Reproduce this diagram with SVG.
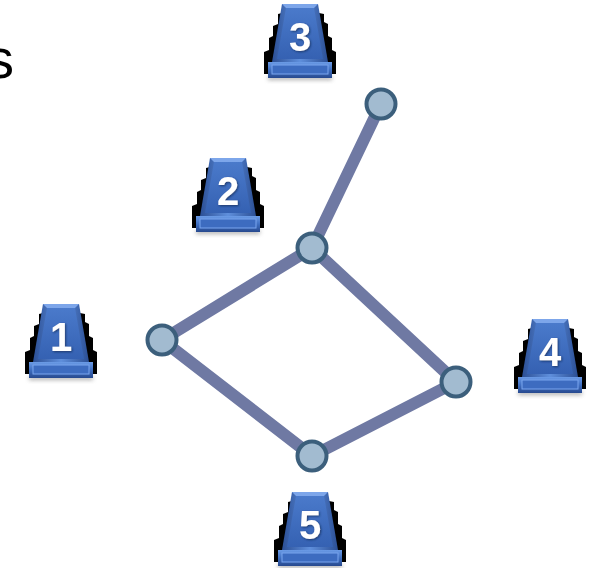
<svg xmlns="http://www.w3.org/2000/svg" width="597" height="568" viewBox="0 0 597 568">
<style>
.edge{stroke:#6f79a3;stroke-width:12;stroke-linecap:round;fill:none}
.vert{fill:#a2bbd0;stroke:#3c5f7c;stroke-width:4}
.num{font-family:"Liberation Sans",Arial,sans-serif;font-weight:bold;font-size:40px;fill:#ffffff;text-anchor:middle}
.title{font-family:"Liberation Sans",Arial,sans-serif;font-size:56px;fill:#000000}
</style>
<defs>
<linearGradient id="gTrapEdge" x1="0" y1="0" x2="1" y2="0">
<stop offset="0" stop-color="#2b4f95"/>
<stop offset="0.5" stop-color="#5f8fdc"/>
<stop offset="1" stop-color="#2b4f95"/>
</linearGradient>
<linearGradient id="gFace" x1="0" y1="0" x2="0" y2="1">
<stop offset="0" stop-color="#4a7acb"/>
<stop offset="1" stop-color="#3561b2"/>
</linearGradient>
<linearGradient id="gBase" x1="0" y1="0" x2="0" y2="1">
<stop offset="0" stop-color="#6b9be6"/>
<stop offset="0.5" stop-color="#3f6fc2"/>
<stop offset="1" stop-color="#27498e"/>
</linearGradient>
<filter id="blur" x="-0.3" y="-1" width="1.6" height="3"><feGaussianBlur stdDeviation="2"/></filter>
<filter id="tsh" x="-0.2" y="-0.2" width="1.4" height="1.4"><feDropShadow dx="1" dy="1" stdDeviation="0.8" flood-color="#10224a" flood-opacity="0.7"/></filter>
<g id="icon">
<rect x="-32" y="72" width="64" height="4" fill="#777" opacity="0.6" filter="url(#blur)"/>
<path d="M-14,8 L-22,10 L-22,20 L-27,22 L-27,32 L-31,34 L-31,46 L-36,48 L-36,70 L36,70 L36,48 L32,46 L32,34 L28,32 L28,20 L24,18 L24,10 L14,8 Z" fill="#000"/>
<path d="M-18,0 L18,0 L28,58 L-28,58 Z" fill="url(#gTrapEdge)"/>
<path d="M-14,4 L14,4 L23,55 L-23,55 Z" fill="url(#gFace)"/>
<path d="M-18,0 L18,0 L14,4 L-14,4 Z" fill="#7da6ea"/>
<rect x="-32" y="58" width="64" height="16" fill="url(#gBase)"/>
<rect x="-28" y="61" width="56" height="9" fill="#3d6cc0" stroke="#7aa5ee" stroke-width="1"/>
</g>
</defs>
<rect width="597" height="568" fill="#ffffff"/>
<text class="title" x="14" y="78" text-anchor="end">s</text>
<g id="connectors">
<line class="edge" x1="381" y1="104" x2="312" y2="248"/>
<line class="edge" x1="312" y1="248" x2="162" y2="340"/>
<line class="edge" x1="312" y1="248" x2="456" y2="382"/>
<line class="edge" x1="162" y1="340" x2="312" y2="456"/>
<line class="edge" x1="312" y1="456" x2="456" y2="382"/>
</g>
<g id="vertices">
<circle class="vert" cx="381" cy="104" r="14.5"/>
<circle class="vert" cx="312" cy="248" r="14.5"/>
<circle class="vert" cx="162" cy="340" r="14.5"/>
<circle class="vert" cx="456" cy="382" r="14.5"/>
<circle class="vert" cx="312" cy="456" r="14.5"/>
</g>
<g id="node1" transform="translate(61,304)"><use href="#icon"/><text class="num" x="0" y="47" filter="url(#tsh)">1</text></g>
<g id="node2" transform="translate(228,158)"><use href="#icon"/><text class="num" x="0" y="47" filter="url(#tsh)">2</text></g>
<g id="node3" transform="translate(300,4)"><use href="#icon"/><text class="num" x="0" y="47" filter="url(#tsh)">3</text></g>
<g id="node4" transform="translate(550,319)"><use href="#icon"/><text class="num" x="0" y="47" filter="url(#tsh)">4</text></g>
<g id="node5" transform="translate(310,492)"><use href="#icon"/><text class="num" x="0" y="47" filter="url(#tsh)">5</text></g>
</svg>
